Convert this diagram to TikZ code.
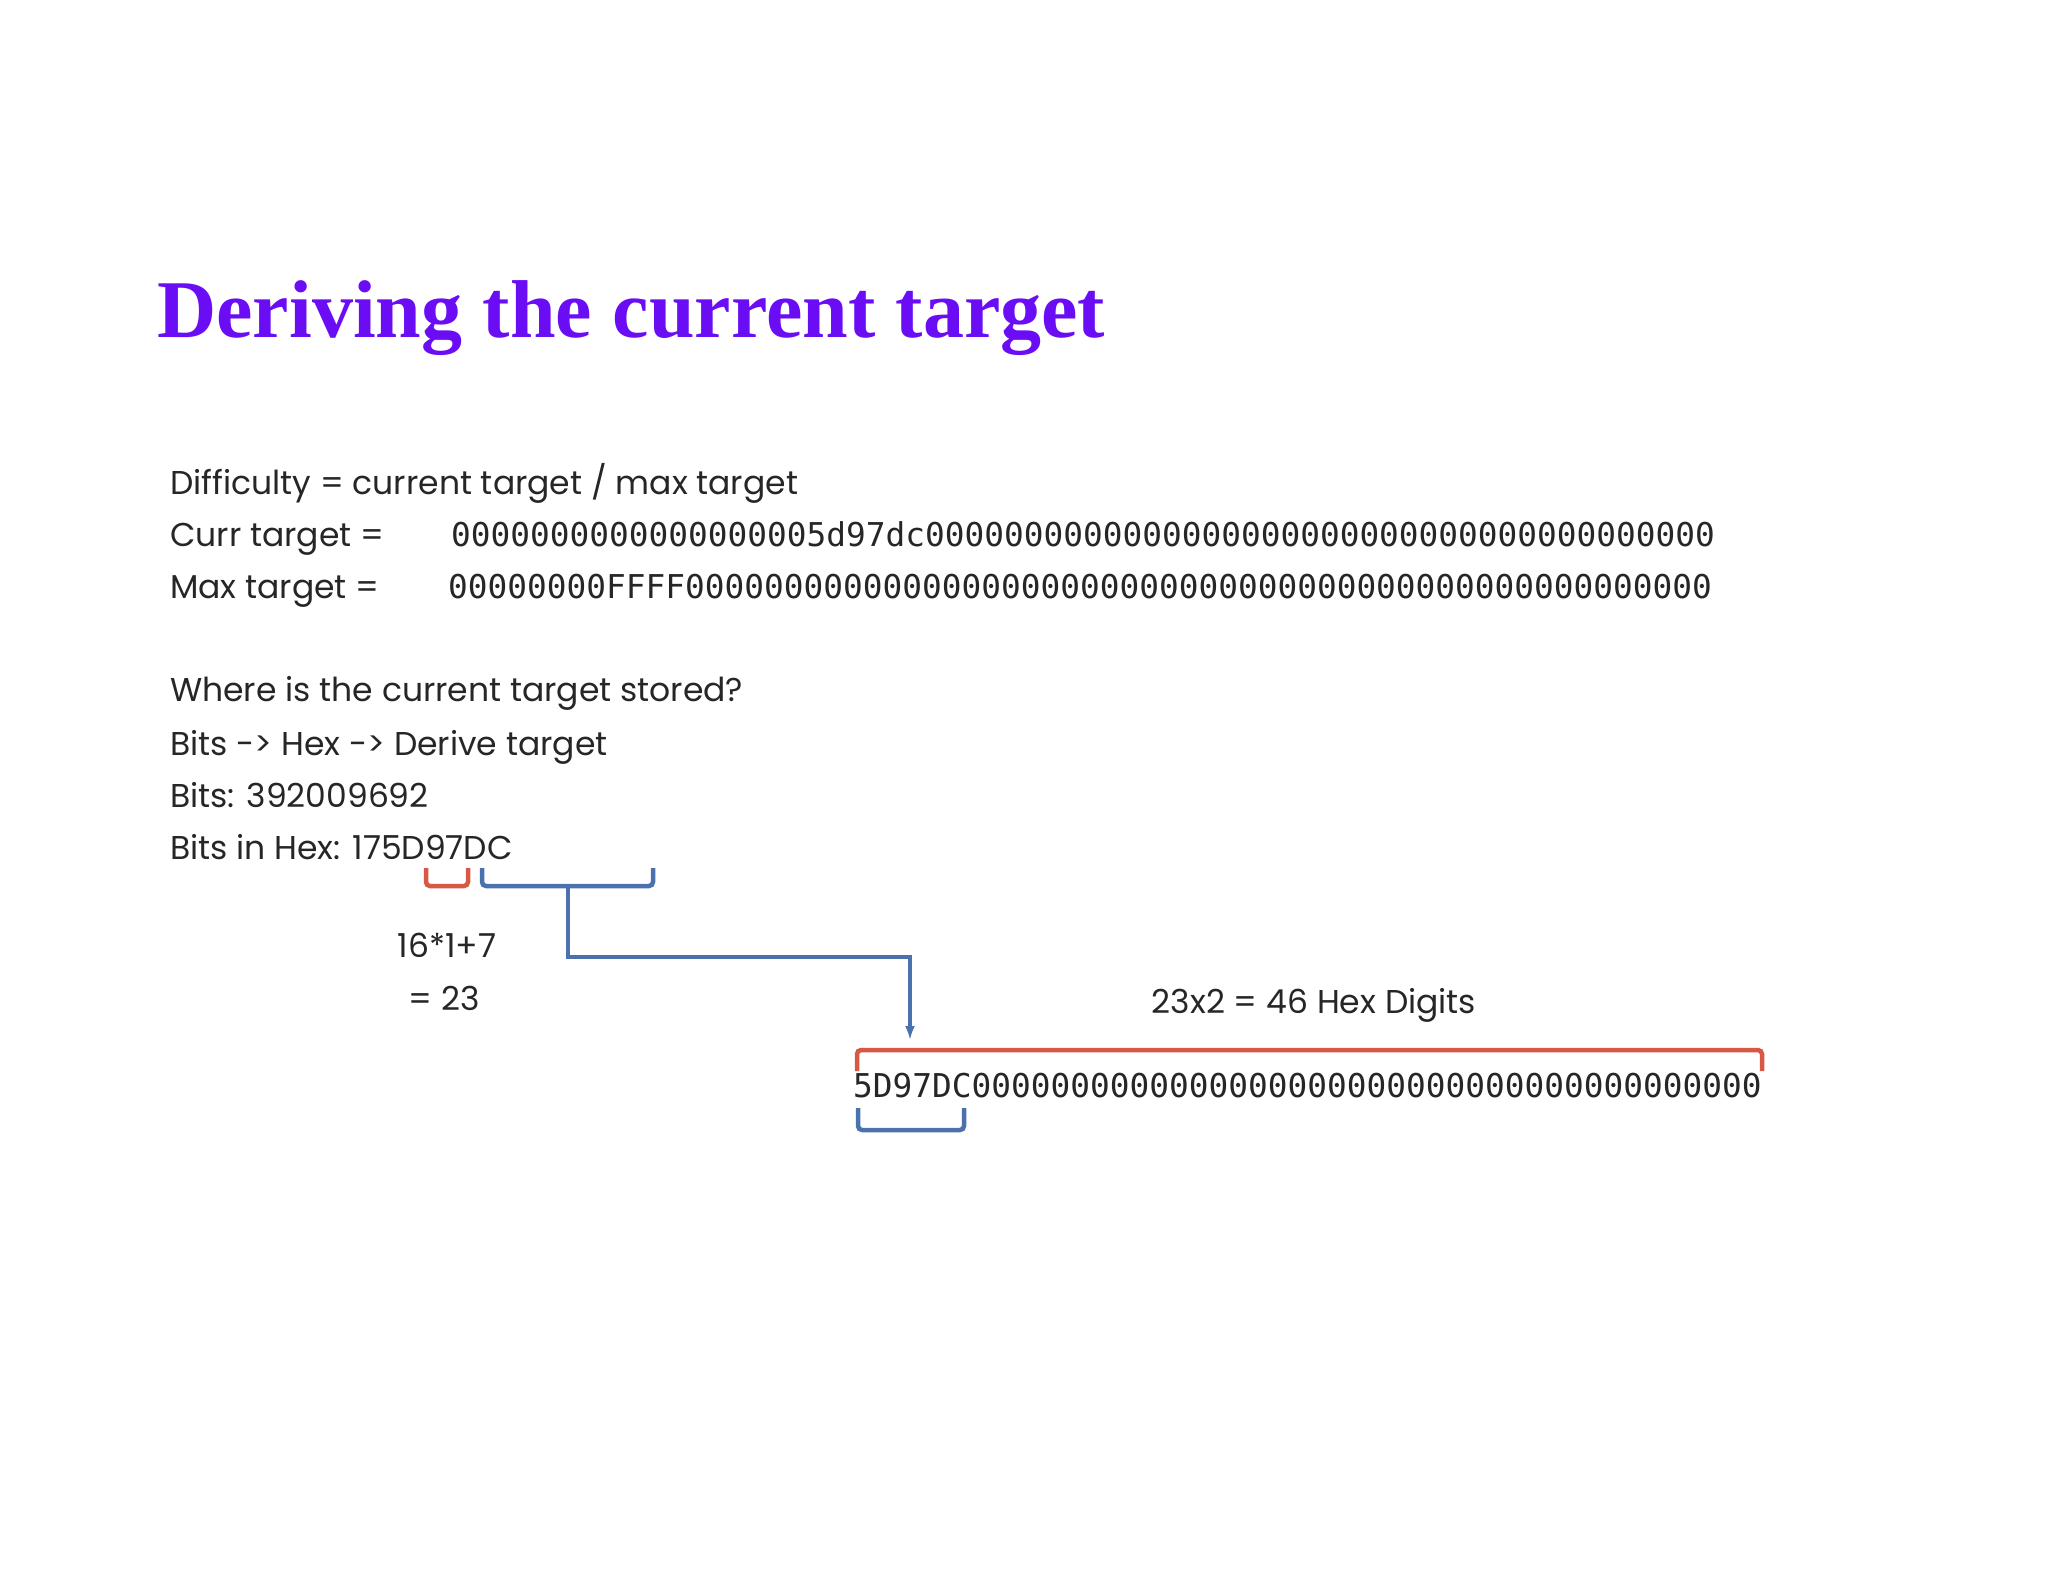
\documentclass[tikz,border=0pt]{standalone}
\usepackage{fontspec}
\usetikzlibrary{arrows.meta}
\setmainfont{Poppins}
\newfontfamily\titlefont{Liberation Serif}
\newfontfamily\monofont{DejaVu Sans Mono}
\definecolor{ttl}{HTML}{6A0DF5}
\definecolor{bred}{HTML}{D65A43}
\definecolor{bblue}{HTML}{4C72AD}
\begin{document}
\begin{tikzpicture}[x=1pt,y=-1pt,
  txt/.style={anchor=base west,inner sep=0pt,font=\fontsize{33}{40}\selectfont,text=black!85},
  mono/.style={anchor=base west,inner sep=0pt,font=\monofont\fontsize{32.8}{40}\selectfont,text=black!85},
  rbr/.style={draw=bred,line width=4.5pt},
  bbr/.style={draw=bblue,line width=4.5pt},
  conn/.style={draw=bblue,line width=4pt,-{Latex[length=14pt,width=10pt]}}]
\useasboundingbox (0,0) rectangle (2048,1582);
\node[anchor=base west,inner sep=0pt,font=\titlefont\bfseries\fontsize{82}{90}\selectfont,text=ttl] (title) at (157,337) {Deriving the current target};
\node[txt] (l1) at (170,494) {Difficulty = current target / max target};
\node[txt] (l2) at (170,546) {Curr target =};
\node[mono] (c2) at (451,546) {0000000000000000005d97dc0000000000000000000000000000000000000000};
\node[txt] (l3) at (170,598) {Max target =};
\node[mono] (c3) at (448,598) {00000000FFFF0000000000000000000000000000000000000000000000000000};
\node[txt] (l4) at (170,701) {Where is the current target stored?};
\node[txt] (l5) at (170,755) {Bits -> Hex -> Derive target};
\node[txt] (l6) at (170,807) {Bits: 392009692};
\node[txt] (l7) at (170,859) {Bits in Hex: 175D97DC};
\node[txt,anchor=base] (calc1) at (447,957) {16*1+7};
\node[txt,anchor=base] (calc2) at (444,1010) {= 23};
\node[txt,anchor=base] (hexd) at (1314,1013) {23x2 = 46 Hex Digits};
\node[mono] (bottom) at (853,1097) {5D97DC0000000000000000000000000000000000000000};
% brackets
\draw[rbr,rounded corners=4pt] (426,868) -- (426,886) -- (468,886) -- (468,868);
\draw[bbr,rounded corners=4pt] (482,868) -- (482,886) -- (653,886) -- (653,868);
\coordinate (s1) at (568,886);
\coordinate (s2) at (910,1040);
\draw[conn] (s1) -- (568,957) -- (910,957) -- (s2);
\draw[rbr,rounded corners=4pt] (857,1071) -- (857,1050) -- (1762,1050) -- (1762,1071);
\draw[bbr,rounded corners=4pt] (858,1108) -- (858,1130) -- (964,1130) -- (964,1108);
\end{tikzpicture}
\end{document}
